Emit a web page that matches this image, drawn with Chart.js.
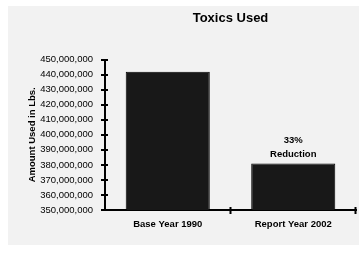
<!DOCTYPE html>
<html>
<head>
<meta charset="utf-8">
<script src="https://cdn.jsdelivr.net/npm/chart.js@4"></script>
<style>
  html, body { margin: 0; padding: 0; background: #fff; }
  #wrap { width: 359px; height: 254px; }
</style>
</head>
<body>
<div id="wrap"><canvas id="myChart" width="359" height="254"></canvas></div>
<script>
const categories = ['Base Year 1990', 'Report Year 2002'];
const amounts = [442000000, 381000000];
const yMin = 350000000;
const yMax = 450000000;
const yStep = 10000000;
const noteLines = ['33%', 'Reduction'];

const font = 'Arial, "Liberation Sans", sans-serif';

// grey panel behind everything
const panel = {
  id: 'panel',
  beforeDraw(chart) {
    const c = chart.ctx;
    c.save();
    c.fillStyle = '#f2f2f2';
    c.fillRect(8, 6, chart.width - 8, 239);
    c.restore();
  }
};

// tick marks that cross the axes + the note over the second bar
const extras = {
  id: 'extras',
  afterDraw(chart) {
    const c = chart.ctx;
    const area = chart.chartArea;
    const y = chart.scales.y;
    const x = chart.scales.x;
    c.save();
    c.strokeStyle = '#000';
    c.lineWidth = 2;
    y.ticks.forEach(t => {
      const py = Math.round(y.getPixelForValue(t.value));
      c.beginPath();
      c.moveTo(area.left - 4, py);
      c.lineTo(area.left + 3, py);
      c.stroke();
    });
    const half = (x.getPixelForValue(1) - x.getPixelForValue(0)) / 2;
    const bounds = [];
    categories.forEach((_, i) => bounds.push(x.getPixelForValue(i) + half));
    bounds.forEach(px => {
      c.beginPath();
      c.moveTo(Math.round(px) - 0.5, area.bottom - 3);
      c.lineTo(Math.round(px) - 0.5, area.bottom + 4);
      c.stroke();
    });

    const bar = chart.getDatasetMeta(0).data[1];
    c.fillStyle = '#000';
    c.font = 'bold 9.5px ' + font;
    c.textAlign = 'center';
    c.textBaseline = 'middle';
    c.fillText(noteLines[0], bar.x, bar.y - 23);
    c.fillText(noteLines[1], bar.x, bar.y - 9);
    c.restore();
  }
};

const ctx = document.getElementById('myChart');
const myChart = new Chart(ctx, {
  type: 'bar',
  data: {
    labels: categories,
    datasets: [{
      data: amounts,
      backgroundColor: '#181818',
      borderColor: '#000',
      borderWidth: 1,
      borderSkipped: false,
      barPercentage: 0.67,
      categoryPercentage: 1
    }]
  },
  options: {
    responsive: false,
    animation: false,
    devicePixelRatio: 1,
    layout: { padding: { left: 8, right: 3, top: 0, bottom: 0 } },
    plugins: {
      legend: { display: false },
      tooltip: { enabled: false },
      title: {
        display: true,
        text: 'Toxics Used',
        fullSize: false,
        color: '#000',
        font: { family: font, size: 13, weight: 'bold' },
        padding: { top: 11, bottom: 33 }
      }
    },
    scales: {
      x: {
        offset: true,
        grid: { display: true, drawOnChartArea: false, drawTicks: false, offset: true },
        border: { color: '#000', width: 2 },
        ticks: {
          color: '#000',
          padding: 9,
          font: { family: font, size: 9.5, weight: 'bold' }
        },
        afterFit(scale) { scale.height = 44; }
      },
      y: {
        min: yMin,
        max: yMax,
        grid: { display: true, drawOnChartArea: false, drawTicks: false },
        border: { color: '#000', width: 2 },
        ticks: {
          stepSize: yStep,
          color: '#000',
          padding: 12,
          font: { family: font, size: 9.5 },
          callback: v => v.toLocaleString('en-US')
        },
        title: {
          display: true,
          text: 'Amount Used in Lbs.',
          color: '#000',
          font: { family: font, size: 9.5, weight: 'bold' },
          padding: { top: 19, bottom: 0 }
        },
        afterFit(scale) { scale.width = 97; }
      }
    }
  },
  plugins: [panel, extras]
});
</script>
</body>
</html>
